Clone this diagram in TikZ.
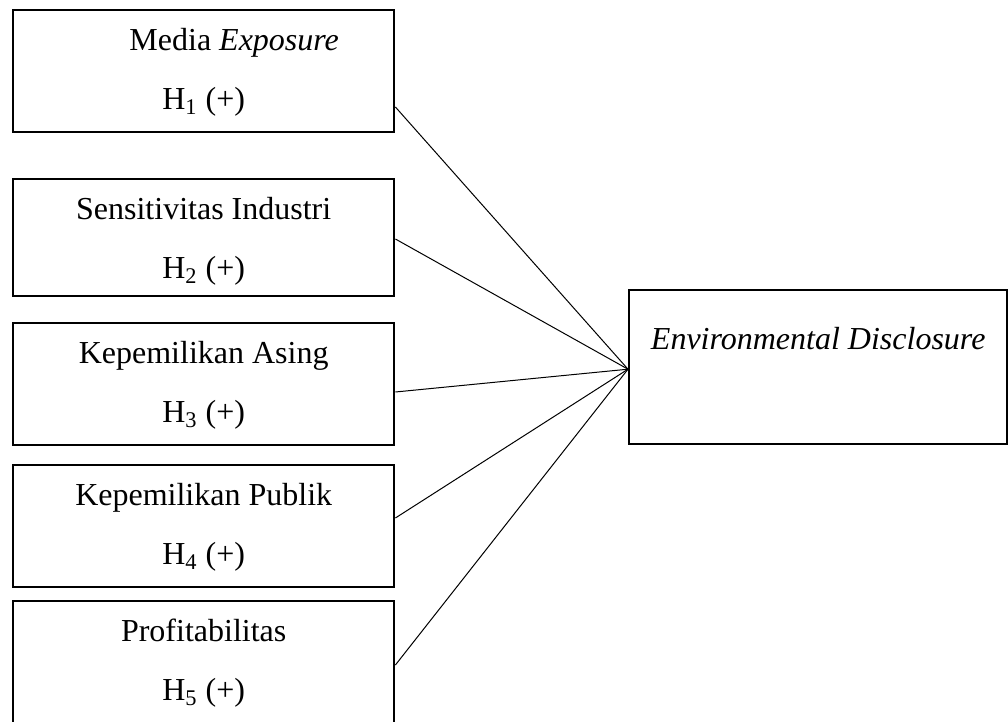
\documentclass[tikz,border=0pt]{standalone}
\usepackage{fontspec}
\setmainfont{Liberation Serif}

\begin{document}
\begin{tikzpicture}[x=0.5pt,y=-0.5pt]
\useasboundingbox (0,0) rectangle (1008,722);
\clip (0,0) rectangle (1008,722);
\begin{scope}[every node/.style={rectangle,draw,line width=1.2pt,anchor=north west,
              inner sep=0pt,text height=49.5pt,align=center,
              font=\fontsize{16pt}{29.5pt}\selectfont}]
    \node[minimum width=190.5pt,text depth=11.5pt] (media) at (12,9)
        {\hspace*{30.5pt}Media \textit{Exposure}\\H\textsubscript{1} (+)};
    \node[minimum width=190.5pt,text depth=9pt] (sens) at (12,178)
        {Sensitivitas Industri\\H\textsubscript{2} (+)};
    \node[minimum width=190.5pt,text depth=11.5pt] (asing) at (12,322)
        {Kepemilikan Asing\\H\textsubscript{3} (+)};
    \node[minimum width=190.5pt,text depth=11.5pt] (publik) at (12,464)
        {Kepemilikan Publik\\H\textsubscript{4} (+)};
    \node[minimum width=190.5pt,text depth=15.5pt] (profit) at (12,600)
        {Profitabilitas\\H\textsubscript{5} (+)};
    \node[minimum width=189pt,text height=29.5pt,text depth=47.5pt] (envdis) at (628,289)
        {\textit{Environmental Disclosure}};
\end{scope}
\begin{scope}[every edge/.style={draw,line width=0.5pt}]
    \path [-] ([yshift=-49pt]media.north east) edge ([yshift=-1pt]envdis.west);
    \path [-] ([yshift=-30.5pt]sens.north east) edge ([yshift=-1pt]envdis.west);
    \path [-] ([yshift=-35pt]asing.north east) edge ([yshift=-1pt]envdis.west);
    \path [-] ([yshift=-27pt]publik.north east) edge ([yshift=-1pt]envdis.west);
    \path [-] ([yshift=-32.5pt]profit.north east) edge ([yshift=-1pt]envdis.west);
\end{scope}
\end{tikzpicture}
\end{document}
